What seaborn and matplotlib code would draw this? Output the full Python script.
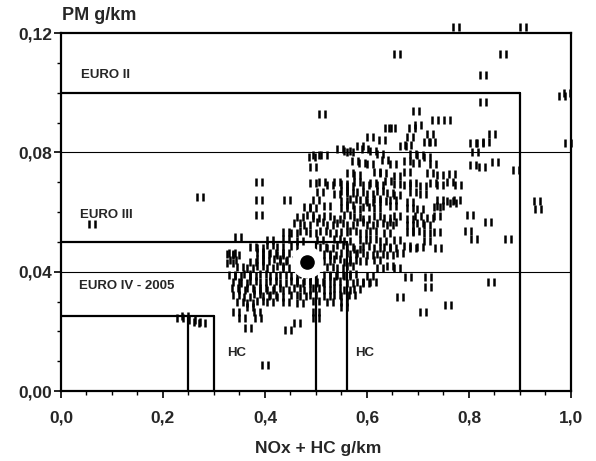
import matplotlib
matplotlib.use("Agg")
import matplotlib.pyplot as plt
import pandas as pd
import seaborn as sb
from matplotlib.path import Path
from matplotlib.ticker import MultipleLocator, FixedLocator, FixedFormatter

# NOx+HC (g/km), PM (g/km), grouped by area
top_pts = [(0.775, 0.122), (0.905, 0.122), (0.658, 0.113), (0.867, 0.113), (0.827, 0.106),
           (0.827, 0.097), (0.983, 0.099), (0.992, 0.100), (0.995, 0.083), (0.512, 0.093),
           (0.697, 0.094), (0.733, 0.091), (0.756, 0.091), (0.641, 0.088), (0.650, 0.088),
           (0.688, 0.088), (0.701, 0.089), (0.724, 0.086), (0.717, 0.0835), (0.727, 0.0835),
           (0.684, 0.085), (0.606, 0.085), (0.629, 0.084), (0.808, 0.083), (0.821, 0.083),
           (0.834, 0.0835), (0.845, 0.086), (0.671, 0.082), (0.681, 0.0825)]

upper_pts = [(0.812, 0.080), (0.808, 0.0757), (0.825, 0.075), (0.851, 0.0768), (0.893, 0.074),
             (0.547, 0.081), (0.560, 0.0805), (0.567, 0.080), (0.492, 0.0785), (0.501, 0.079),
             (0.515, 0.079), (0.495, 0.075), (0.586, 0.082), (0.596, 0.081), (0.612, 0.0805),
             (0.625, 0.0796), (0.691, 0.0796), (0.704, 0.079), (0.717, 0.0785), (0.730, 0.076),
             (0.576, 0.077), (0.590, 0.0765), (0.606, 0.076), (0.635, 0.0775), (0.652, 0.076),
             (0.678, 0.077), (0.697, 0.0765),
             (0.567, 0.073), (0.580, 0.0725), (0.619, 0.0735), (0.632, 0.073), (0.658, 0.072),
             (0.678, 0.0735), (0.724, 0.073), (0.743, 0.0725), (0.766, 0.0728)]

middle_pts = [(0.495, 0.0696), (0.511, 0.070), (0.527, 0.069), (0.541, 0.0702), (0.554, 0.0695),
              (0.567, 0.0688), (0.580, 0.070), (0.599, 0.0692), (0.612, 0.0698), (0.625, 0.069),
              (0.642, 0.0703), (0.658, 0.0694), (0.678, 0.069), (0.691, 0.0698), (0.710, 0.0688),
              (0.730, 0.0696), (0.743, 0.069), (0.763, 0.0699), (0.779, 0.069),
              (0.508, 0.0668), (0.541, 0.0662), (0.554, 0.0672), (0.567, 0.0665), (0.586, 0.0668),
              (0.606, 0.066), (0.625, 0.0672), (0.645, 0.0665), (0.658, 0.0658), (0.691, 0.0668),
              (0.710, 0.066),
              (0.501, 0.064), (0.554, 0.0636), (0.573, 0.0645), (0.593, 0.064), (0.606, 0.0632),
              (0.619, 0.0642), (0.632, 0.0638), (0.652, 0.064), (0.684, 0.0632), (0.743, 0.064),
              (0.763, 0.0636), (0.776, 0.064),
              (0.482, 0.0618), (0.495, 0.0612), (0.521, 0.062), (0.554, 0.0615), (0.567, 0.0622),
              (0.580, 0.061), (0.599, 0.0618), (0.619, 0.0612), (0.652, 0.062), (0.684, 0.0614),
              (0.704, 0.061), (0.737, 0.0618),
              (0.469, 0.0584), (0.488, 0.059), (0.501, 0.058), (0.521, 0.0586), (0.541, 0.0578),
              (0.560, 0.059), (0.580, 0.0584), (0.599, 0.0578), (0.619, 0.0588), (0.639, 0.058),
              (0.658, 0.0586), (0.684, 0.0578), (0.701, 0.0588), (0.724, 0.058), (0.737, 0.0585),
              (0.462, 0.0562), (0.482, 0.0556), (0.508, 0.0565), (0.527, 0.0558), (0.547, 0.0562),
              (0.567, 0.0555), (0.586, 0.0565), (0.606, 0.0558), (0.625, 0.0562), (0.645, 0.0555),
              (0.652, 0.0565), (0.684, 0.0558), (0.704, 0.0562), (0.717, 0.0555),
              (0.442, 0.0534), (0.456, 0.0528), (0.475, 0.0538), (0.495, 0.053), (0.514, 0.0536),
              (0.534, 0.0528), (0.554, 0.0534), (0.573, 0.0538), (0.593, 0.053), (0.612, 0.0535),
              (0.639, 0.0528), (0.684, 0.0534), (0.697, 0.0538), (0.717, 0.053), (0.737, 0.0534),
              (0.410, 0.0506), (0.442, 0.0508), (0.469, 0.0502), (0.508, 0.0506), (0.541, 0.051),
              (0.560, 0.0502), (0.593, 0.0506), (0.612, 0.0508), (0.632, 0.0502), (0.658, 0.0506),
              (0.717, 0.0504)]

side_pts = [(0.273, 0.0651), (0.389, 0.070), (0.389, 0.064), (0.389, 0.059), (0.443, 0.064),
            (0.060, 0.056), (0.348, 0.0517), (0.802, 0.059), (0.838, 0.0567), (0.799, 0.0537),
            (0.809, 0.0508), (0.877, 0.0508), (0.740, 0.0478), (0.769, 0.0629), (0.743, 0.062),
            (0.933, 0.0637), (0.936, 0.061), (0.844, 0.0366), (0.720, 0.035), (0.720, 0.0383),
            (0.759, 0.0288), (0.710, 0.0266), (0.665, 0.0316), (0.681, 0.0383),
            (0.331, 0.046), (0.331, 0.043)]

core_pts = [(0.377, 0.0484), (0.390, 0.048), (0.410, 0.0488), (0.429, 0.0482), (0.456, 0.0486),
            (0.514, 0.0484), (0.527, 0.0478), (0.547, 0.0488), (0.567, 0.0482), (0.580, 0.0476),
            (0.599, 0.0486), (0.619, 0.048), (0.639, 0.0484), (0.652, 0.0478), (0.678, 0.0486),
            (0.691, 0.048), (0.704, 0.0484),
            (0.335, 0.0461), (0.344, 0.0456), (0.390, 0.0465), (0.403, 0.0458), (0.416, 0.0464),
            (0.429, 0.0456), (0.442, 0.0462), (0.521, 0.046), (0.534, 0.0455), (0.554, 0.0464),
            (0.573, 0.0458), (0.586, 0.0462), (0.606, 0.0456), (0.625, 0.046), (0.645, 0.0455),
            (0.665, 0.0462),
            (0.338, 0.0439), (0.377, 0.0434), (0.390, 0.0442), (0.403, 0.0436), (0.423, 0.0441),
            (0.436, 0.0435), (0.449, 0.0439), (0.521, 0.0436), (0.541, 0.0442), (0.560, 0.0434),
            (0.573, 0.044), (0.593, 0.0436), (0.619, 0.0439),
            (0.351, 0.0417), (0.371, 0.0412), (0.390, 0.042), (0.410, 0.0414), (0.429, 0.0419),
            (0.442, 0.0412), (0.527, 0.0417), (0.547, 0.0412), (0.567, 0.042), (0.625, 0.0414),
            (0.645, 0.0418), (0.658, 0.0412),
            (0.335, 0.0389), (0.348, 0.0384), (0.364, 0.0392), (0.377, 0.0386), (0.397, 0.0391),
            (0.416, 0.0384), (0.436, 0.039), (0.456, 0.0386), (0.475, 0.0392), (0.495, 0.0385),
            (0.521, 0.039), (0.534, 0.0384), (0.547, 0.0389), (0.560, 0.0385), (0.573, 0.0391),
            (0.606, 0.0386),
            (0.344, 0.0366), (0.358, 0.0362), (0.377, 0.037), (0.397, 0.0364), (0.416, 0.0368),
            (0.436, 0.0362), (0.456, 0.0368), (0.469, 0.0363), (0.482, 0.0369), (0.495, 0.0362),
            (0.508, 0.0367), (0.521, 0.0363), (0.541, 0.0368), (0.567, 0.0362), (0.586, 0.0367),
            (0.599, 0.0363), (0.612, 0.0366),
            (0.341, 0.0344), (0.354, 0.0338), (0.371, 0.0346), (0.384, 0.034), (0.397, 0.0345),
            (0.410, 0.0339), (0.423, 0.0344), (0.442, 0.034), (0.462, 0.0346), (0.482, 0.034),
            (0.501, 0.0344), (0.521, 0.0339), (0.541, 0.0345), (0.560, 0.034), (0.580, 0.0343),
            (0.344, 0.0322), (0.364, 0.0316), (0.384, 0.0324), (0.403, 0.0318), (0.416, 0.0322),
            (0.429, 0.0316), (0.456, 0.0322), (0.475, 0.0318), (0.495, 0.0323), (0.521, 0.0317),
            (0.541, 0.0322), (0.554, 0.0317), (0.570, 0.0321),
            (0.351, 0.030), (0.371, 0.0296), (0.390, 0.0302), (0.410, 0.0297), (0.442, 0.030),
            (0.469, 0.0296), (0.501, 0.0301), (0.527, 0.0297), (0.554, 0.030)]

low_pts = [(0.371, 0.0283), (0.554, 0.0283), (0.344, 0.0266), (0.384, 0.0266), (0.501, 0.0266),
           (0.354, 0.0244), (0.387, 0.0244), (0.501, 0.0244), (0.462, 0.0227), (0.367, 0.021),
           (0.446, 0.0205), (0.400, 0.0087), (0.233, 0.0244), (0.243, 0.025), (0.256, 0.0238),
           (0.266, 0.0232), (0.276, 0.0227)]

mean_pt = (0.482, 0.0433)

# emission limits: (NOx limit, NOx+HC limit, PM limit)
euro_names = ["EURO II", "EURO III", "EURO IV - 2005"]
euro_nox = [0.90, 0.50, 0.25]
euro_hc = [None, 0.56, 0.30]
euro_pm = [0.100, 0.050, 0.025]

x_ticks = [0.0, 0.2, 0.4, 0.6, 0.8, 1.0]
x_labels = ["0,0", "0,2", "0,4", "0,6", "0,8", "1,0"]
y_ticks = [0.00, 0.04, 0.08, 0.12]
y_labels = ["0,00", "0,04", "0,08", "0,12"]

all_pts = top_pts + upper_pts + middle_pts + side_pts + core_pts + low_pts
df = pd.DataFrame(all_pts, columns=["nox_hc", "pm"])

sb.set_style("ticks")
plt.rcParams["font.family"] = ["Liberation Sans", "DejaVu Sans"]

fig = plt.figure(figsize=(5.96, 4.61), dpi=100)
ax = fig.add_axes([0.1023, 0.1518, 0.8557, 0.7766])

# horizontal grid lines
for yv in y_ticks[1:-1]:
    ax.axhline(yv, color="black", lw=0.8, zorder=1)

# limit boxes
for nox, hc, pm in zip(euro_nox, euro_hc, euro_pm):
    right = hc if hc is not None else nox
    ax.plot([0, right], [pm, pm], color="black", lw=1.6, zorder=2)
    ax.plot([nox, nox], [0, pm], color="black", lw=1.6, zorder=2)
    if hc is not None:
        ax.plot([hc, hc], [0, pm], color="black", lw=1.6, zorder=2)

# "ıı" marker
mark = Path([(-0.3, -0.5), (-0.3, 0.5), (0.3, -0.5), (0.3, 0.5)],
            [Path.MOVETO, Path.LINETO, Path.MOVETO, Path.LINETO])
sb.scatterplot(data=df, x="nox_hc", y="pm", marker=mark, s=38, color="black",
               edgecolor="black", linewidth=1.8, ax=ax, clip_on=False, zorder=3)

ax.plot(*mean_pt, "o", ms=22, mfc="white", mec="white", zorder=5)
ax.plot(*mean_pt, "o", ms=9.5, mfc="black", mec="black", zorder=6)

ax.set_xlim(0, 1.0)
ax.set_ylim(0, 0.12)
ax.xaxis.set_major_locator(FixedLocator(x_ticks))
ax.xaxis.set_major_formatter(FixedFormatter(x_labels))
ax.xaxis.set_minor_locator(MultipleLocator(0.05))
ax.yaxis.set_major_locator(FixedLocator(y_ticks))
ax.yaxis.set_major_formatter(FixedFormatter(y_labels))
ax.yaxis.set_minor_locator(MultipleLocator(0.01))
ax.tick_params(which="major", direction="out", length=5, width=1.2, labelsize=12.5, color="black")
ax.tick_params(which="minor", direction="out", length=3, width=1.0, color="black")
ax.tick_params(axis="x", which="major", pad=9)
ax.tick_params(axis="y", which="major", pad=1.5)
for lab in ax.get_xticklabels() + ax.get_yticklabels():
    lab.set_fontweight("bold")
for sp in ax.spines.values():
    sp.set_linewidth(1.6)
    sp.set_color("black")
ax.set_xlabel("")
ax.set_ylabel("")

narrow = ["Liberation Sans Narrow", "Liberation Sans", "DejaVu Sans"]
ax.text(0.040, 0.1059, euro_names[0], fontsize=9.5, fontweight="bold", family=narrow, va="center")
ax.text(0.038, 0.059, euro_names[1], fontsize=9.5, fontweight="bold", family=narrow, va="center")
ax.text(0.036, 0.0352, euro_names[2], fontsize=9.5, fontweight="bold", family=narrow, va="center")
ax.text(0.325, 0.0128, "HC", fontsize=9.5, fontweight="bold", family=narrow, va="center")
ax.text(0.5765, 0.0128, "HC", fontsize=9.5, fontweight="bold", family=narrow, va="center")

fig.text(62 / 596, 1 - 15 / 461, "PM g/km", fontsize=13, fontweight="bold", va="center")
fig.text(318 / 596, 1 - 448 / 461, "NOx + HC g/km", fontsize=12.5, fontweight="bold",
         ha="center", va="center")

fig.savefig("out.png", dpi=100)
